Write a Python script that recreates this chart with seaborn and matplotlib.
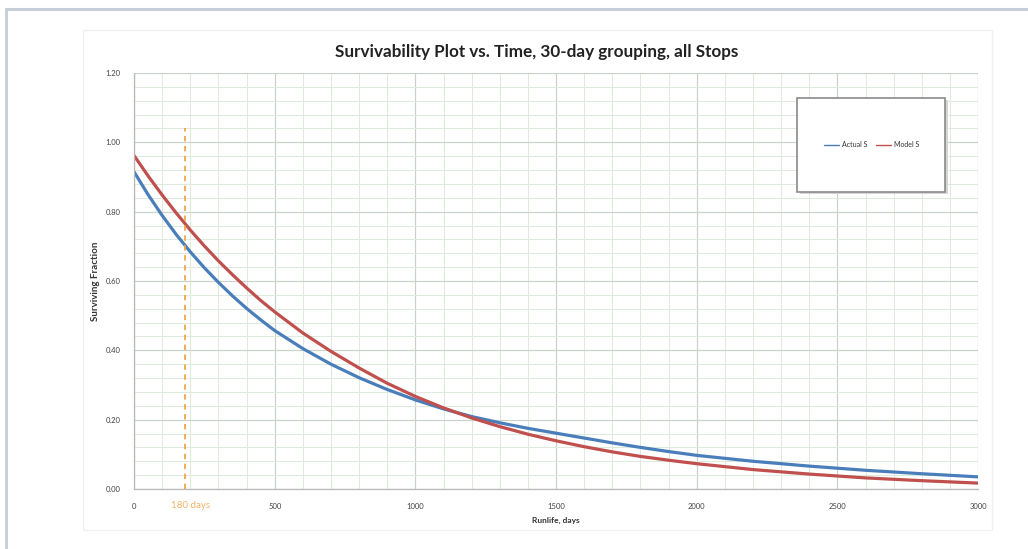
import numpy as np
import pandas as pd
import matplotlib
matplotlib.use("Agg")
import matplotlib.pyplot as plt
from matplotlib.patches import Rectangle
from matplotlib.ticker import MultipleLocator, FixedLocator
import seaborn as sns

# Run life (days) at which the surviving fraction is tabulated
days = [0, 50, 100, 150, 200, 250, 300, 350, 400, 450, 500,
        600, 700, 800, 900, 1000, 1100, 1200, 1300, 1400, 1500,
        1600, 1700, 1800, 1900, 2000, 2200, 2400, 2600, 2800, 3000]

# Observed survivability
actual_s = [0.915, 0.849, 0.789, 0.734, 0.684, 0.638, 0.596, 0.557, 0.521, 0.488, 0.457,
            0.405, 0.360, 0.321, 0.287, 0.257, 0.231, 0.209, 0.191, 0.175, 0.161,
            0.147, 0.133, 0.120, 0.108, 0.097, 0.080, 0.066, 0.054, 0.044, 0.035]

# Fitted model survivability
model_s = [0.962, 0.903, 0.848, 0.796, 0.747, 0.701, 0.658, 0.618, 0.580, 0.544, 0.511,
           0.450, 0.397, 0.349, 0.305, 0.267, 0.234, 0.205, 0.180, 0.158, 0.139,
           0.122, 0.107, 0.094, 0.083, 0.073, 0.056, 0.043, 0.032, 0.024, 0.017]

series_names = ["Actual S", "Model S"]
x_ticks = [0, 500, 1000, 1500, 2000, 2500, 3000]
y_ticks = [0.00, 0.20, 0.40, 0.60, 0.80, 1.00, 1.20]
marker_day = 180
marker_label = "180 days"

title = "Survivability Plot vs. Time, 30-day grouping, all Stops"
x_label = "Runlife, days"
y_label = "Surviving Fraction"

df = pd.concat([
    pd.DataFrame({"days": days, "fraction": actual_s, "series": series_names[0]}),
    pd.DataFrame({"days": days, "fraction": model_s, "series": series_names[1]}),
])

sns.set_style("white")
plt.rcParams["font.family"] = ["Lato", "DejaVu Sans"]

fig = plt.figure(figsize=(10.28, 5.49), dpi=100)
fig.patch.set_facecolor("white")

# outer page frame (top and left edges)
fig.add_artist(plt.Line2D([0.006, 1.0], [0.984, 0.984], transform=fig.transFigure,
                          color="#c5ced6", lw=2.2))
fig.add_artist(plt.Line2D([0.006, 0.006], [0.0, 0.984], transform=fig.transFigure,
                          color="#c5ced6", lw=2.0))
# faint chart area border
fig.add_artist(Rectangle((0.081, 0.035), 0.884, 0.91, transform=fig.transFigure,
                         fill=False, edgecolor="#f0f0f0", lw=1.0))

ax = fig.add_axes([0.1304, 0.1093, 0.821, 0.7577])

palette = {series_names[0]: "#4a7ebb", series_names[1]: "#c0504d"}
sns.lineplot(data=df, x="days", y="fraction", hue="series", palette=palette,
             linewidth=2.3, ax=ax, legend=False, sort=True)

ax.set_xlim(0, 3000)
ax.set_ylim(0, 1.2)
ax.xaxis.set_major_locator(FixedLocator(x_ticks))
ax.yaxis.set_major_locator(FixedLocator(y_ticks))
ax.xaxis.set_minor_locator(MultipleLocator(100))
ax.yaxis.set_minor_locator(MultipleLocator(0.04))
ax.set_xticklabels([str(t) for t in x_ticks])
ax.set_yticklabels([f"{t:.2f}" for t in y_ticks])

ax.grid(which="major", color="#c9d3c9", lw=0.9)
ax.grid(which="minor", color="#dfeadf", lw=0.7)
ax.set_axisbelow(True)
ax.tick_params(axis="both", which="both", length=0, labelsize=5.5,
               labelcolor="#444444")
ax.tick_params(axis="y", pad=10)
ax.tick_params(axis="x", pad=10)

for side in ["top", "right"]:
    ax.spines[side].set_visible(False)
ax.spines["left"].set_color("#b8b8b8")
ax.spines["bottom"].set_color("#b8b8b8")
ax.spines["left"].set_linewidth(0.9)
ax.spines["bottom"].set_linewidth(0.9)

ax.set_xlabel(x_label, fontsize=6, fontweight="bold", color="#333333", labelpad=5)
ax.set_ylabel(y_label, fontsize=7, fontweight="bold", color="#333333", labelpad=4)

# chart title, centred on the chart area
fig.text(537 / 1028, 1 - 52 / 549, title, ha="center", va="center",
         fontsize=12.3, fontweight="bold", color="#222222")

# 180-day reference line
ax.axvline(marker_day, ymin=0, ymax=1.04 / 1.2, color="#f2a64a", lw=1.3,
           ls=(0, (3, 2.5)))
ax.annotate(marker_label, xy=(marker_day, 0), xytext=(marker_day + 20, -0.048),
            textcoords="data", ha="center", va="center", fontsize=7,
            color="#f7b366", annotation_clip=False)

# legend box with drop shadow
box = Rectangle((0.786, 0.714), 0.175, 0.226, transform=ax.transAxes,
                facecolor="white", edgecolor="#8a8a8a", lw=1.2, zorder=5)
shadow = Rectangle((0.789, 0.708), 0.175, 0.226, transform=ax.transAxes,
                   facecolor="#d5d5d5", edgecolor="none", zorder=4)
ax.add_patch(shadow)
ax.add_patch(box)

handles = [plt.Line2D([], [], color=palette[n], lw=1.0) for n in series_names]
leg = ax.legend(handles, series_names, loc="center", bbox_to_anchor=(0.8735, 0.827),
                ncol=2, frameon=False, fontsize=5, handlelength=2.2,
                handletextpad=0.4, columnspacing=1.2)
leg.set_zorder(6)
for t in leg.get_texts():
    t.set_color("#333333")

fig.savefig("out.png", dpi=100, facecolor="white")
